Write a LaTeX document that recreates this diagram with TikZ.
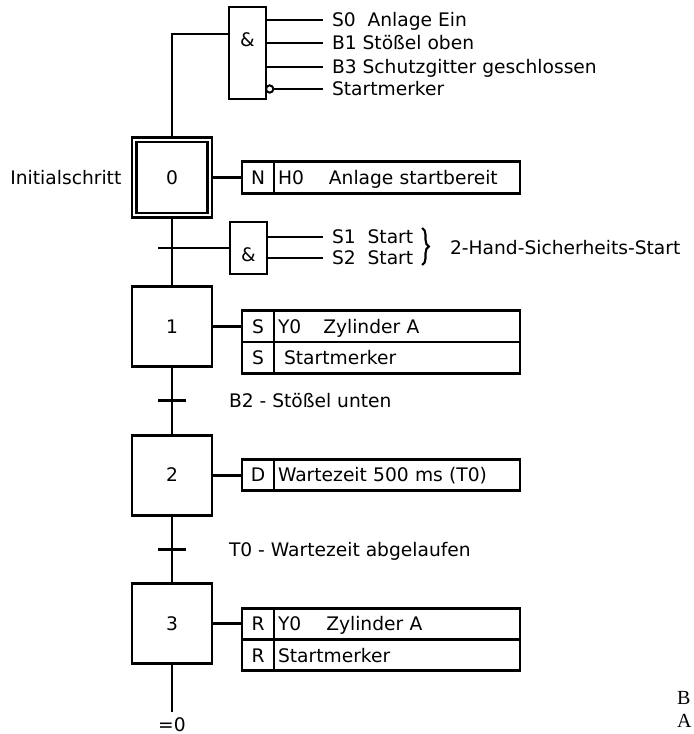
\documentclass[tikz,border=0pt]{standalone}
\usepackage{fontspec}
\setmainfont{DejaVu Sans}
\newfontfamily\bildfont{Liberation Serif}
\usetikzlibrary{shapes}
\usetikzlibrary{arrows}
\usetikzlibrary{positioning}
\usetikzlibrary{decorations.pathreplacing}

\begin{document}
\begin{tikzpicture}[x=0.75pt,y=-0.75pt]
					\tikzstyle{every node}=[font=\fontsize{14}{16}\selectfont, text height=10.2pt, text depth=0pt, outer sep=0pt]
					\tikzstyle{stepbox}=[draw, line width=2.2pt, minimum size=60pt, inner sep=0pt]
					\tikzstyle{gate}=[draw, line width=2.2pt, minimum width=27.75pt, inner sep=0pt]
					\tikzstyle{qual}=[draw, line width=2.2pt, minimum width=24pt, minimum height=23.5pt, inner sep=0pt]
					\tikzstyle{act}=[draw, line width=2.2pt, minimum height=23.5pt, text width=178.5pt, inner xsep=3pt, inner ysep=0pt, align=left]
					\tikzstyle{sig}=[anchor=west, inner xsep=6.75pt, inner ysep=0pt]
					\tikzstyle{lbl}=[inner sep=0pt]
					\tikzstyle{neg}=[circle, draw, fill=white, line width=1.5pt, minimum size=5.5pt, inner sep=0pt, text height=0pt, anchor=west]
					\tikzstyle{line}=[line width=2.2pt]

					\useasboundingbox (0,0) rectangle (693,734);

					\node[stepbox] (s0) at (172,177.5) {0};
					\draw[line width=1.6pt] ([shift={(3.4pt,-3.4pt)}]s0.north west) rectangle ([shift={(-3.4pt,3.4pt)}]s0.south east);
					\node[stepbox, below=51.6pt of s0] (s1) {1};
					\node[stepbox, below=51.6pt of s1] (s2) {2};
					\node[stepbox, below=51.6pt of s2] (s3) {3};
					\node[lbl, left=8pt of s0] (init) {Initialschritt};

					\node[gate, minimum height=69pt] (g1) at (247.5,53) {};
					\node[lbl] (and1) at (247.5,40) {\&};
					\node[sig] (i1) at (323,20) {S0\ \ Anlage Ein};
					\node[sig] (i2) at (323,43) {B1 Stößel oben};
					\node[sig] (i3) at (323,67) {B3 Schutzgitter geschlossen};
					\node[sig] (i4) at (323,89) {Startmerker};
					\node[neg] (n4) at (g1.east |- i4) {};
					\draw[line] (g1.east |- i1) -- (i1.west);
					\draw[line] (g1.east |- i2) -- (i2.west);
					\draw[line] (g1.east |- i3) -- (i3.west);
					\draw[line] (n4.east) -- (i4.west);
					\draw[line] ([yshift=-20.25pt]g1.north west) -| (s0.north);

					\node[qual, right=22.5pt of s0] (q0) {N};
					\node[act, right=0pt of q0] (t0) {H0\hspace{18.75pt}Anlage startbereit};
					\draw[line] (s0) -- (q0);

					\coordinate (tr0) at (172,248);
					\node[gate, minimum height=39pt] (g2) at (248.5,248) {};
					\node[lbl] (and2) at (248.5,255) {\&};
					\node[sig] (i5) at (323,237) {S1\ \ Start};
					\node[sig] (i6) at (323,258) {S2\ \ Start};
					\draw[line] (g2.east |- i5) -- (i5.west);
					\draw[line] (g2.east |- i6) -- (i6.west);
					\draw[line] ([xshift=-10.5pt]tr0) -- (g2.west);
					\draw[decorate, decoration={brace, amplitude=5pt}, line width=1.6pt] ([yshift=6.75pt]i5.east) -- ([yshift=-5.25pt]i6.east);
					\node[lbl, anchor=west] (hand) at (450,248) {2-Hand-Sicherheits-Start};

					\node[qual, right=22.5pt of s1] (q1) {S};
					\node[act, right=0pt of q1] (t1) {Y0\hspace{16.5pt}Zylinder A};
					\node[qual, below=0pt of q1] (q1b) {S};
					\node[act, right=0pt of q1b] (t1b) {\hspace*{4.5pt}Startmerker};
					\draw[line] (s1) -- (q1);

					\coordinate (tr1) at (172,400.5);
					\draw[line] ([xshift=-10.5pt]tr1) -- ([xshift=10.5pt]tr1);
					\node[lbl, right=42.75pt of tr1] (b2) {B2 - Stößel unten};

					\node[qual, right=22.5pt of s2] (q2) {D};
					\node[act, right=0pt of q2] (t2) {Wartezeit 500 ms (T0)};
					\draw[line] (s2) -- (q2);

					\coordinate (tr2) at (172,549.5);
					\draw[line] ([xshift=-10.5pt]tr2) -- ([xshift=10.5pt]tr2);
					\node[lbl, right=42.75pt of tr2] (t0lbl) {T0 - Wartezeit abgelaufen};

					\node[qual, right=22.5pt of s3] (q3) {R};
					\node[act, right=0pt of q3] (t3) {Y0\hspace{18.75pt}Zylinder A};
					\node[qual, below=0pt of q3] (q3b) {R};
					\node[act, right=0pt of q3b] (t3b) {Startmerker};
					\draw[line] (s3) -- (q3);

					\draw[line] (s0) -- (s1) -- (s2) -- (s3);
					\coordinate (e3) at ([yshift=-36pt]s3.south);
					\draw[line] (s3) -- (e3);
					\node[lbl, below=4.5pt of e3] (nul) {=0};

					\node[lbl, anchor=west, font=\bildfont\fontsize{15}{17}\selectfont] (bb) at (677,698) {B};
					\node[lbl, anchor=west, font=\bildfont\fontsize{15}{17}\selectfont] (ba) at (677,721) {A};
\end{tikzpicture}
\end{document}
